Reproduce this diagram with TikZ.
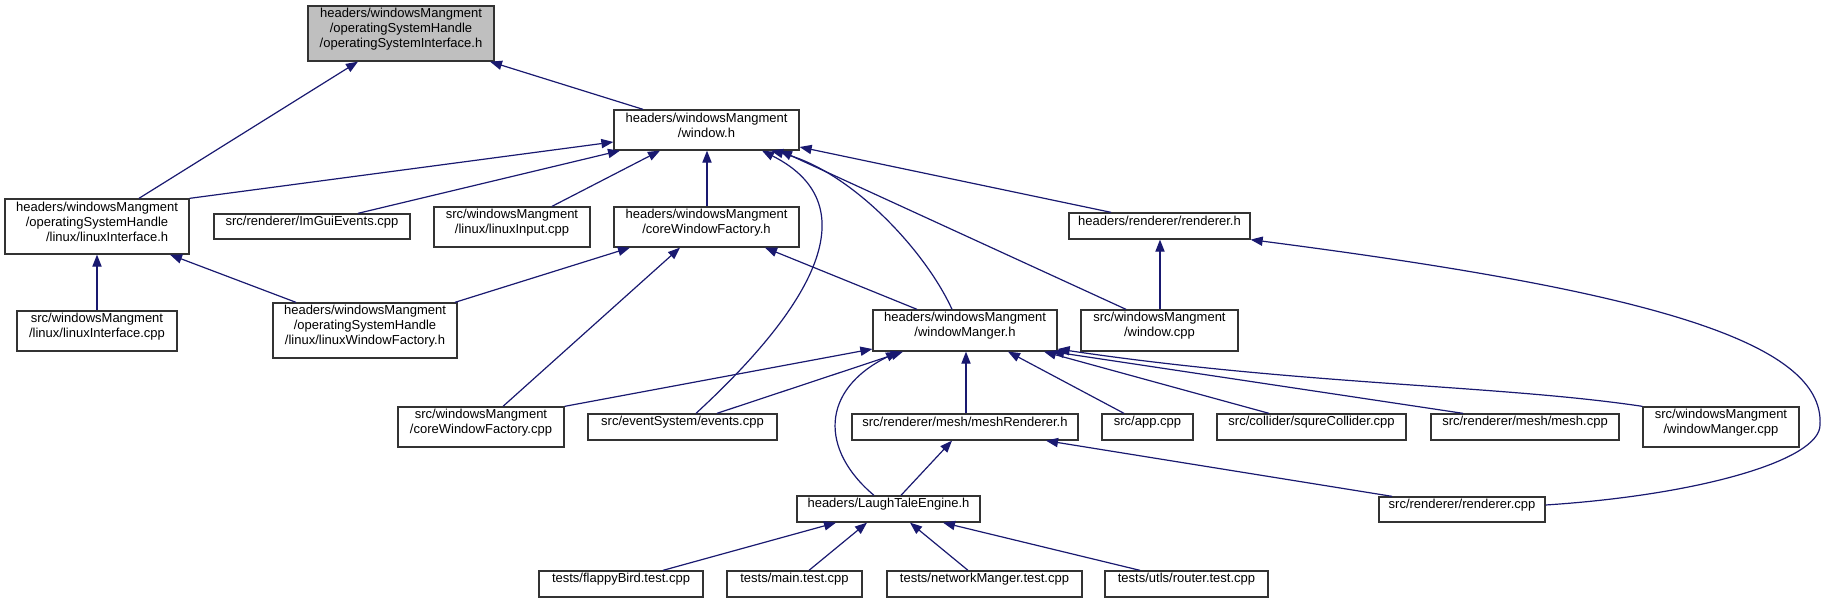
\documentclass[tikz,border=0pt]{standalone}
\usepackage{fontspec}
\setmainfont{Liberation Sans}
\usepackage{calc}
\usetikzlibrary{arrows.meta,fit}
\definecolor{edgeblue}{HTML}{191970}
\definecolor{boxline}{HTML}{333333}
\definecolor{rootfill}{HTML}{BFBFBF}
\begin{document}
\begin{tikzpicture}[x=0.5pt,y=-0.5pt,
  box/.style={draw=boxline, line width=0.65pt, inner sep=0pt, fill=white,
    font=\fontsize{6.5pt}{7.5pt}\selectfont, align=center},
  lbox/.style={box, align=left},
  edge/.style={draw=edgeblue, line width=0.6pt, -{Triangle[length=6pt,width=4.6pt]}}]
\useasboundingbox (0,0) rectangle (1826,603);
% nodes
\node[lbox, fill=rootfill, fit={(308,6) (494,61)}] (root) {headers/windowsMangment\\/operatingSystemHandle\\/operatingSystemInterface.h};
\node[box, fit={(614,110) (799,150)}] (win) {headers/windowsMangment\\/window.h};
\node[lbox, fit={(5,199) (189,254)}] (lih) {headers/windowsMangment\\/operatingSystemHandle\\\makebox[\widthof{/operatingSystemHandle}][r]{/linux/linuxInterface.h}};
\node[box, fit={(214,214) (410,239)}] (imgui) {src/renderer/ImGuiEvents.cpp};
\node[box, fit={(434,207) (590,247)}] (linput) {src/windowsMangment\\/linux/linuxInput.cpp};
\node[box, fit={(614,207) (799,247)}] (cwfh) {headers/windowsMangment\\/coreWindowFactory.h};
\node[box, fit={(1069,213) (1250,239)}] (rendh) {headers/renderer/renderer.h};
\node[lbox, fit={(17,311) (177,351)}] (licpp) {src/windowsMangment\\/linux/linuxInterface.cpp};
\node[lbox, fit={(273,303) (457,358)}] (lwf) {headers/windowsMangment\\/operatingSystemHandle\\/linux/linuxWindowFactory.h};
\node[box, fit={(873,310) (1057,351)}] (wmh) {headers/windowsMangment\\/windowManger.h};
\node[box, fit={(1081,310) (1238,351)}] (wcpp) {src/windowsMangment\\/window.cpp};
\node[lbox, fit={(398,407) (564,447)}] (cwfcpp) {src/windowsMangment\\/coreWindowFactory.cpp};
\node[box, fit={(588,414) (777,440)}] (events) {src/eventSystem/events.cpp};
\node[box, fit={(852,414) (1078,440)}] (meshr) {src/renderer/mesh/meshRenderer.h};
\node[box, fit={(1102,414) (1193,440)}] (app) {src/app.cpp};
\node[box, fit={(1217,414) (1406,440)}] (squre) {src/collider/squreCollider.cpp};
\node[box, fit={(1431,414) (1619,440)}] (mesh) {src/renderer/mesh/mesh.cpp};
\node[box, fit={(1643,407) (1799,447)}] (wmcpp) {src/windowsMangment\\/windowManger.cpp};
\node[box, fit={(797,496) (980,522)}] (lte) {headers/LaughTaleEngine.h};
\node[box, fit={(1379,497) (1545,522)}] (rcpp) {src/renderer/renderer.cpp};
\node[box, fit={(539,571) (703,597)}] (flappy) {tests/flappyBird.test.cpp};
\node[box, fit={(727,571) (862,597)}] (mtest) {tests/main.test.cpp};
\node[box, fit={(887,571) (1082,597)}] (ntest) {tests/networkManger.test.cpp};
\node[box, fit={(1105,571) (1268,597)}] (rtest) {tests/utls/router.test.cpp};
% edges
\draw[edge] (lih.north -| 139,0) -- (root.south -| 358,0);
\draw[edge] (win.north -| 643,0) -- (root.south -| 490,0);
\draw[edge] (lih.north east) -- (win.west |- 0,142);
\draw[edge] (imgui.north -| 358,0) -- (win.south -| 620,0);
\draw[edge] (linput.north -| 552,0) -- (win.south -| 660,0);
\draw[edge] (cwfh.north -| 707,0) -- (win.south -| 707,0);
\draw[edge] (events.north -| 696,0) .. controls (830,290) and (860,200) .. (win.south -| 762,0);
\draw[edge] (wmh.north -| 952,0) .. controls (925,250) and (850,170) .. (win.south -| 771,0);
\draw[edge] (wcpp.north -| 1126,0) -- (win.south -| 780,0);
\draw[edge] (rendh.north -| 1111,0) -- (win.east |- 0,147);
\draw[edge] (licpp.north -| 97,0) -- (lih.south -| 97,0);
\draw[edge] (lwf.north -| 296,0) -- (lih.south -| 170,0);
\draw[edge] (lwf.north -| 455,0) -- (cwfh.south -| 630,0);
\draw[edge] (cwfcpp.north -| 503,0) -- (cwfh.south -| 680,0);
\draw[edge] (wmh.north -| 917,0) -- (cwfh.south -| 765,0);
\draw[edge] (wcpp.north -| 1160,0) -- (rendh.south -| 1160,0);
\coordinate (rbend) at (1820,425);
\draw[edge] (rcpp.east |- 0,505) .. controls (1700,495) and (1820,460) .. (rbend) .. controls (1825,340) and (1640,290) .. (rendh.south east);
\draw[edge] (cwfcpp.north east) -- (wmh.west |- 0,349);
\draw[edge] (events.north -| 717,0) -- (wmh.south -| 903,0);
\draw[edge] (lte.north -| 874,0) .. controls (820,450) and (820,390) .. (wmh.south -| 898,0);
\draw[edge] (meshr.north -| 966,0) -- (wmh.south -| 966,0);
\draw[edge] (app.north -| 1124,0) -- (wmh.south -| 1008,0);
\draw[edge] (squre.north -| 1269,0) -- (wmh.south -| 1044,0);
\draw[edge] (mesh.north -| 1463,0) -- (wmh.south -| 1052,0);
\draw[edge] (wmcpp.north west) .. controls (1500,385) and (1300,385) .. (wmh.east |- 0,349);
\draw[edge] (lte.north -| 901,0) -- (meshr.south -| 952,0);
\draw[edge] (rcpp.north -| 1392,0) -- (meshr.south -| 1046,0);
\draw[edge] (flappy.north -| 663,0) -- (lte.south -| 836,0);
\draw[edge] (mtest.north -| 809,0) -- (lte.south -| 867,0);
\draw[edge] (ntest.north -| 968,0) -- (lte.south -| 910,0);
\draw[edge] (rtest.north -| 1140,0) -- (lte.south -| 943,0);
\end{tikzpicture}
\end{document}
